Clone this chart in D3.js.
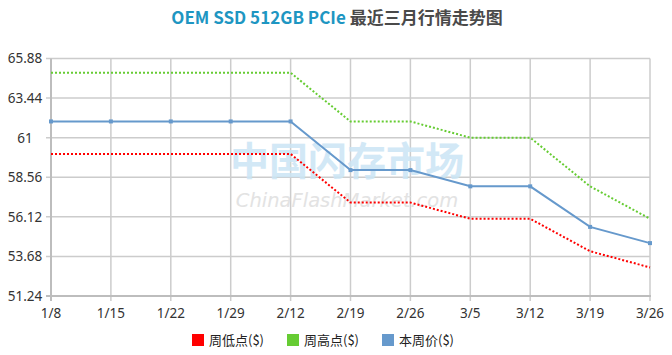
<!DOCTYPE html>
<html><head><meta charset="utf-8">
<script src="https://cdn.jsdelivr.net/npm/d3@7"></script>
<style>body{margin:0;background:#fff}svg{display:block}</style>
</head><body>
<script>
const categories = ["1/8","1/15","1/22","1/29","2/12","2/19","2/26","3/5","3/12","3/19","3/26"];
const lowValues  = [60.0,60.0,60.0,60.0,60.0,57.0,57.0,56.0,56.0,54.0,53.0];
const highValues = [65.0,65.0,65.0,65.0,65.0,62.0,62.0,61.0,61.0,58.0,56.0];
const priceValues= [62.0,62.0,62.0,62.0,62.0,59.0,59.0,58.0,58.0,55.5,54.5];
const yTicks = [51.24,53.68,56.12,58.56,61,63.44,65.88];
const seriesNames = ["周低点($)","周高点($)","本周价($)"];
const colors = ["#ff0000","#66cc33","#6699cc"];

(function(){
const W = 672, H = 355;
const svg = d3.select("body").append("svg").attr("width", W).attr("height", H);
const pL = 51, pR = 650, pT = 58.5, pB = 296;
const x = d3.scalePoint().domain(categories).range([pL, pR]);
const y = d3.scaleLinear().domain([51.24, 65.88]).range([pB, pT]);

// title
const title = svg.append("text").attr("x", 337).attr("y", 24).attr("text-anchor", "middle")
  .style("font-family", "'Noto Sans CJK SC', sans-serif").style("font-size", "17px").style("font-weight", "bold");
title.append("tspan").attr("fill", "#1e96c2").text("OEM SSD 512GB PCIe ");
title.append("tspan").attr("fill", "#4a4a4a").text("最近三月行情走势图");

// grid
const g = svg.append("g");
g.selectAll(".hg").data(yTicks).enter().append("line")
  .attr("x1", pL - 5).attr("x2", pR).attr("y1", d => y(d)).attr("y2", d => y(d))
  .attr("stroke", "#cccccc").attr("stroke-width", 1.5);
g.selectAll(".vg").data(categories).enter().append("line")
  .attr("x1", d => x(d)).attr("x2", d => x(d)).attr("y1", pT).attr("y2", pB + 5)
  .attr("stroke", "#cccccc").attr("stroke-width", 1.5);
g.append("line").attr("x1", pL).attr("x2", pL).attr("y1", pT).attr("y2", pB + 5).attr("stroke", "#bdbdbd").attr("stroke-width", 2);
g.append("line").attr("x1", pL - 5).attr("x2", pR + 1).attr("y1", pB).attr("y2", pB).attr("stroke", "#bdbdbd").attr("stroke-width", 2);

// watermark
svg.append("text").attr("x", 347).attr("y", 175).attr("text-anchor", "middle")
  .style("font-family", "'Noto Sans CJK SC', sans-serif").style("font-size", "39px").style("font-weight", "bold")
  .attr("fill", "#cbe5f5").attr("opacity", 0.85).text("中国闪存市场");
svg.append("text").attr("x", 347).attr("y", 207).attr("text-anchor", "middle")
  .style("font-family", "'DejaVu Sans', sans-serif").style("font-size", "19.5px").style("font-style", "italic")
  .attr("fill", "#e0e0e0").attr("opacity", 0.9).text("ChinaFlashMarket.com");

// labels
const lblFont = "'Noto Sans', sans-serif";
svg.selectAll(".yl").data(yTicks).enter().append("text")
  .attr("x", 25).attr("y", d => y(d)).attr("dy", "0.36em").attr("text-anchor", "middle")
  .style("font-family", lblFont).style("font-size", "13.5px").attr("fill", "#333")
  .text(d => d);
svg.selectAll(".xl").data(categories).enter().append("text")
  .attr("x", d => x(d)).attr("y", 313).attr("dy", "0.36em").attr("text-anchor", "middle")
  .style("font-family", lblFont).style("font-size", "13.5px").attr("fill", "#333")
  .text(d => d);

// lines
const line = d3.line().x((d, i) => x(categories[i])).y(d => y(d));
svg.append("path").datum(highValues).attr("d", line).attr("fill", "none")
  .attr("stroke", colors[1]).attr("stroke-width", 2).attr("stroke-dasharray", "2,2");
svg.append("path").datum(lowValues).attr("d", line).attr("fill", "none")
  .attr("stroke", colors[0]).attr("stroke-width", 2).attr("stroke-dasharray", "2,2");
svg.append("path").datum(priceValues).attr("d", line).attr("fill", "none")
  .attr("stroke", colors[2]).attr("stroke-width", 2);
svg.selectAll(".pm").data(priceValues).enter().append("rect")
  .attr("x", (d, i) => x(categories[i]) - 2).attr("y", d => y(d) - 2)
  .attr("width", 4).attr("height", 4).attr("fill", colors[2]);

// legend
const legX = [192, 287, 382];
const leg = svg.selectAll(".lg").data(seriesNames).enter().append("g")
  .attr("transform", (d, i) => `translate(${legX[i]},334)`);
leg.append("rect").attr("width", 12).attr("height", 12).attr("fill", (d, i) => colors[i]);
leg.append("text").attr("x", 17).attr("y", 6).attr("dy", "0.36em")
  .style("font-family", "'Noto Sans CJK SC', sans-serif").style("font-size", "13px").attr("fill", "#222")
  .text(d => d);
})();
</script>
</body></html>
